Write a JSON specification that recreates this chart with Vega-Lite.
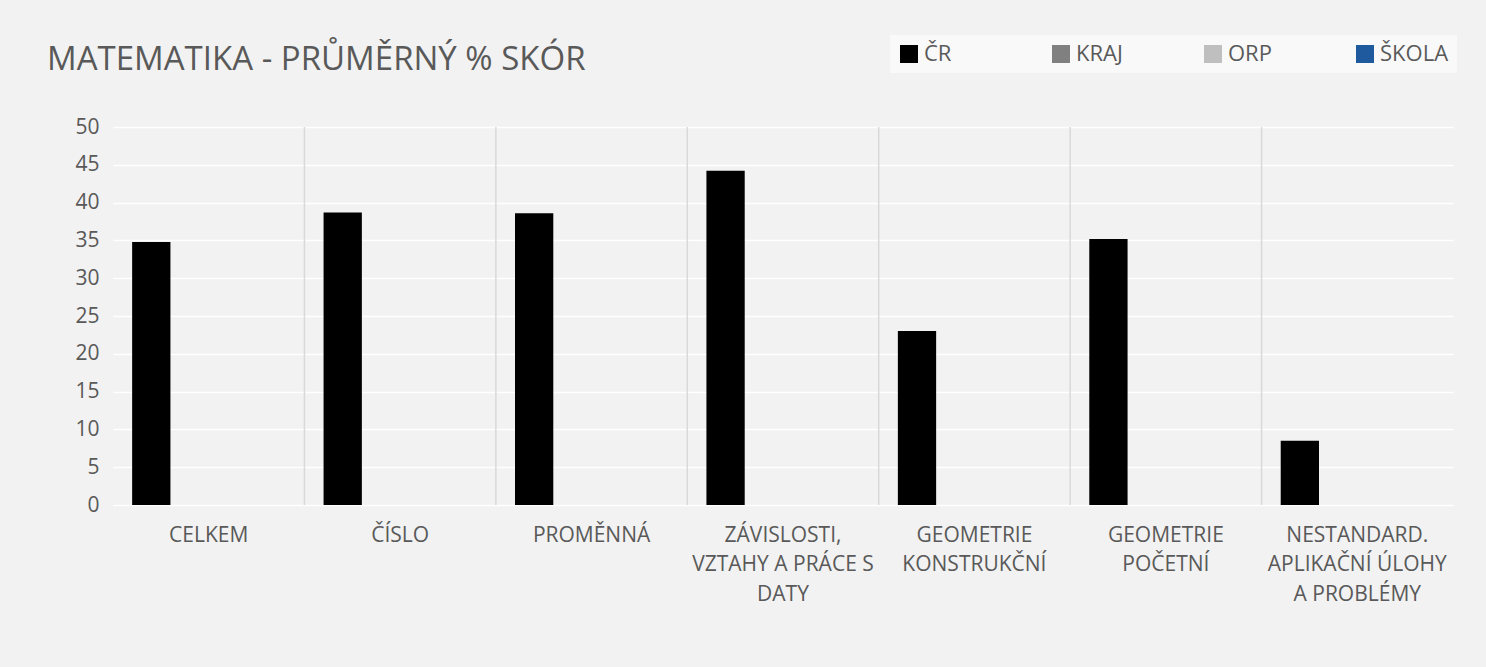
{
  "$schema": "https://vega.github.io/schema/vega-lite/v6.json",
  "width": 1340,
  "height": 378,
  "autosize": {"type": "none"},
  "padding": {"left": 113, "top": 127, "right": 33, "bottom": 162},
  "background": "#f2f2f2",
  "title": {
    "text": "MATEMATIKA - PRŮMĚRNÝ % SKÓR",
    "anchor": "start",
    "frame": "group",
    "dx": -66,
    "offset": -68,
    "baseline": "alphabetic",
    "font": "Open Sans",
    "fontSize": 33,
    "fontWeight": "normal",
    "color": "#595959"
  },
  "data": {
    "values": [
      {"oblast": "CELKEM", "skupina": "ČR", "skore": 34.8},
      {"oblast": "CELKEM", "skupina": "KRAJ", "skore": null},
      {"oblast": "CELKEM", "skupina": "ORP", "skore": null},
      {"oblast": "CELKEM", "skupina": "ŠKOLA", "skore": null},
      {"oblast": "ČÍSLO", "skupina": "ČR", "skore": 38.7},
      {"oblast": "ČÍSLO", "skupina": "KRAJ", "skore": null},
      {"oblast": "ČÍSLO", "skupina": "ORP", "skore": null},
      {"oblast": "ČÍSLO", "skupina": "ŠKOLA", "skore": null},
      {"oblast": "PROMĚNNÁ", "skupina": "ČR", "skore": 38.6},
      {"oblast": "PROMĚNNÁ", "skupina": "KRAJ", "skore": null},
      {"oblast": "PROMĚNNÁ", "skupina": "ORP", "skore": null},
      {"oblast": "PROMĚNNÁ", "skupina": "ŠKOLA", "skore": null},
      {"oblast": "ZÁVISLOSTI, VZTAHY A PRÁCE S DATY", "skupina": "ČR", "skore": 44.2},
      {"oblast": "ZÁVISLOSTI, VZTAHY A PRÁCE S DATY", "skupina": "KRAJ", "skore": null},
      {"oblast": "ZÁVISLOSTI, VZTAHY A PRÁCE S DATY", "skupina": "ORP", "skore": null},
      {"oblast": "ZÁVISLOSTI, VZTAHY A PRÁCE S DATY", "skupina": "ŠKOLA", "skore": null},
      {"oblast": "GEOMETRIE KONSTRUKČNÍ", "skupina": "ČR", "skore": 23.0},
      {"oblast": "GEOMETRIE KONSTRUKČNÍ", "skupina": "KRAJ", "skore": null},
      {"oblast": "GEOMETRIE KONSTRUKČNÍ", "skupina": "ORP", "skore": null},
      {"oblast": "GEOMETRIE KONSTRUKČNÍ", "skupina": "ŠKOLA", "skore": null},
      {"oblast": "GEOMETRIE POČETNÍ", "skupina": "ČR", "skore": 35.2},
      {"oblast": "GEOMETRIE POČETNÍ", "skupina": "KRAJ", "skore": null},
      {"oblast": "GEOMETRIE POČETNÍ", "skupina": "ORP", "skore": null},
      {"oblast": "GEOMETRIE POČETNÍ", "skupina": "ŠKOLA", "skore": null},
      {"oblast": "NESTANDARD. APLIKAČNÍ ÚLOHY A PROBLÉMY", "skupina": "ČR", "skore": 8.5},
      {"oblast": "NESTANDARD. APLIKAČNÍ ÚLOHY A PROBLÉMY", "skupina": "KRAJ", "skore": null},
      {"oblast": "NESTANDARD. APLIKAČNÍ ÚLOHY A PROBLÉMY", "skupina": "ORP", "skore": null},
      {"oblast": "NESTANDARD. APLIKAČNÍ ÚLOHY A PROBLÉMY", "skupina": "ŠKOLA", "skore": null}
    ]
  },
  "encoding": {
    "x": {
      "field": "oblast",
      "type": "nominal",
      "sort": ["CELKEM", "ČÍSLO", "PROMĚNNÁ", "ZÁVISLOSTI, VZTAHY A PRÁCE S DATY", "GEOMETRIE KONSTRUKČNÍ", "GEOMETRIE POČETNÍ", "NESTANDARD. APLIKAČNÍ ÚLOHY A PROBLÉMY"],
      "scale": {"domain": ["CELKEM", "ČÍSLO", "PROMĚNNÁ", "ZÁVISLOSTI, VZTAHY A PRÁCE S DATY", "GEOMETRIE KONSTRUKČNÍ", "GEOMETRIE POČETNÍ", "NESTANDARD. APLIKAČNÍ ÚLOHY A PROBLÉMY"], "paddingInner": 0, "paddingOuter": 0},
      "axis": {
        "title": null,
        "labelAngle": 0,
        "domain": false,
        "ticks": false,
        "grid": false,
        "labelFont": "Open Sans",
        "labelFontSize": 21,
        "labelColor": "#595959",
        "labelLineHeight": 29.5,
        "labelPadding": 19,
        "labelLimit": 0,
        "labelExpr": "datum.label == 'ZÁVISLOSTI, VZTAHY A PRÁCE S DATY' ? ['ZÁVISLOSTI,', 'VZTAHY A PRÁCE S', 'DATY'] : datum.label == 'GEOMETRIE KONSTRUKČNÍ' ? ['GEOMETRIE', 'KONSTRUKČNÍ'] : datum.label == 'GEOMETRIE POČETNÍ' ? ['GEOMETRIE', 'POČETNÍ'] : datum.label == 'NESTANDARD. APLIKAČNÍ ÚLOHY A PROBLÉMY' ? ['NESTANDARD.', 'APLIKAČNÍ ÚLOHY', 'A PROBLÉMY'] : datum.label"
      }
    }
  },
  "layer": [
    {
      "transform": [{"filter": "datum.skupina == 'ČR' && datum.oblast != 'CELKEM'"}],
      "mark": {"type": "rule", "color": "#d9d9d9", "strokeWidth": 1.5},
      "encoding": {
        "x": {
          "field": "oblast",
          "type": "nominal",
          "sort": ["CELKEM", "ČÍSLO", "PROMĚNNÁ", "ZÁVISLOSTI, VZTAHY A PRÁCE S DATY", "GEOMETRIE KONSTRUKČNÍ", "GEOMETRIE POČETNÍ", "NESTANDARD. APLIKAČNÍ ÚLOHY A PROBLÉMY"],
          "bandPosition": 0
        }
      }
    },
    {
      "mark": {"type": "bar"},
      "encoding": {
        "xOffset": {
          "field": "skupina",
          "type": "nominal",
          "scale": {"domain": ["ČR", "KRAJ", "ORP", "ŠKOLA"], "paddingInner": 0, "paddingOuter": 0.5}
        },
        "y": {
          "field": "skore",
          "type": "quantitative",
          "scale": {"domain": [0, 50]},
          "axis": {
            "title": null,
            "values": [0, 5, 10, 15, 20, 25, 30, 35, 40, 45, 50],
            "domain": false,
            "ticks": false,
            "gridColor": "#ffffff",
            "gridWidth": 1.5,
            "labelPadding": 14,
            "labelFont": "Open Sans",
            "labelFontSize": 21,
            "labelColor": "#595959"
          }
        },
        "color": {
          "field": "skupina",
          "type": "nominal",
          "scale": {
            "domain": ["ČR", "KRAJ", "ORP", "ŠKOLA"],
            "range": ["#000000", "#808080", "#bfbfbf", "#1f5a9e"]
          },
          "legend": {
            "title": null,
            "orient": "none",
            "legendX": 777,
            "legendY": -92,
            "direction": "horizontal",
            "columns": 4,
            "gridAlign": "all",
            "columnPadding": 57,
            "symbolType": "square",
            "symbolSize": 324,
            "symbolStrokeWidth": 0,
            "labelFont": "Open Sans",
            "labelFontSize": 22,
            "labelColor": "#595959",
            "labelOffset": 4,
            "fillColor": "#f9f9f9",
            "padding": 8
          }
        }
      }
    }
  ],
  "config": {"view": {"stroke": null}}
}
